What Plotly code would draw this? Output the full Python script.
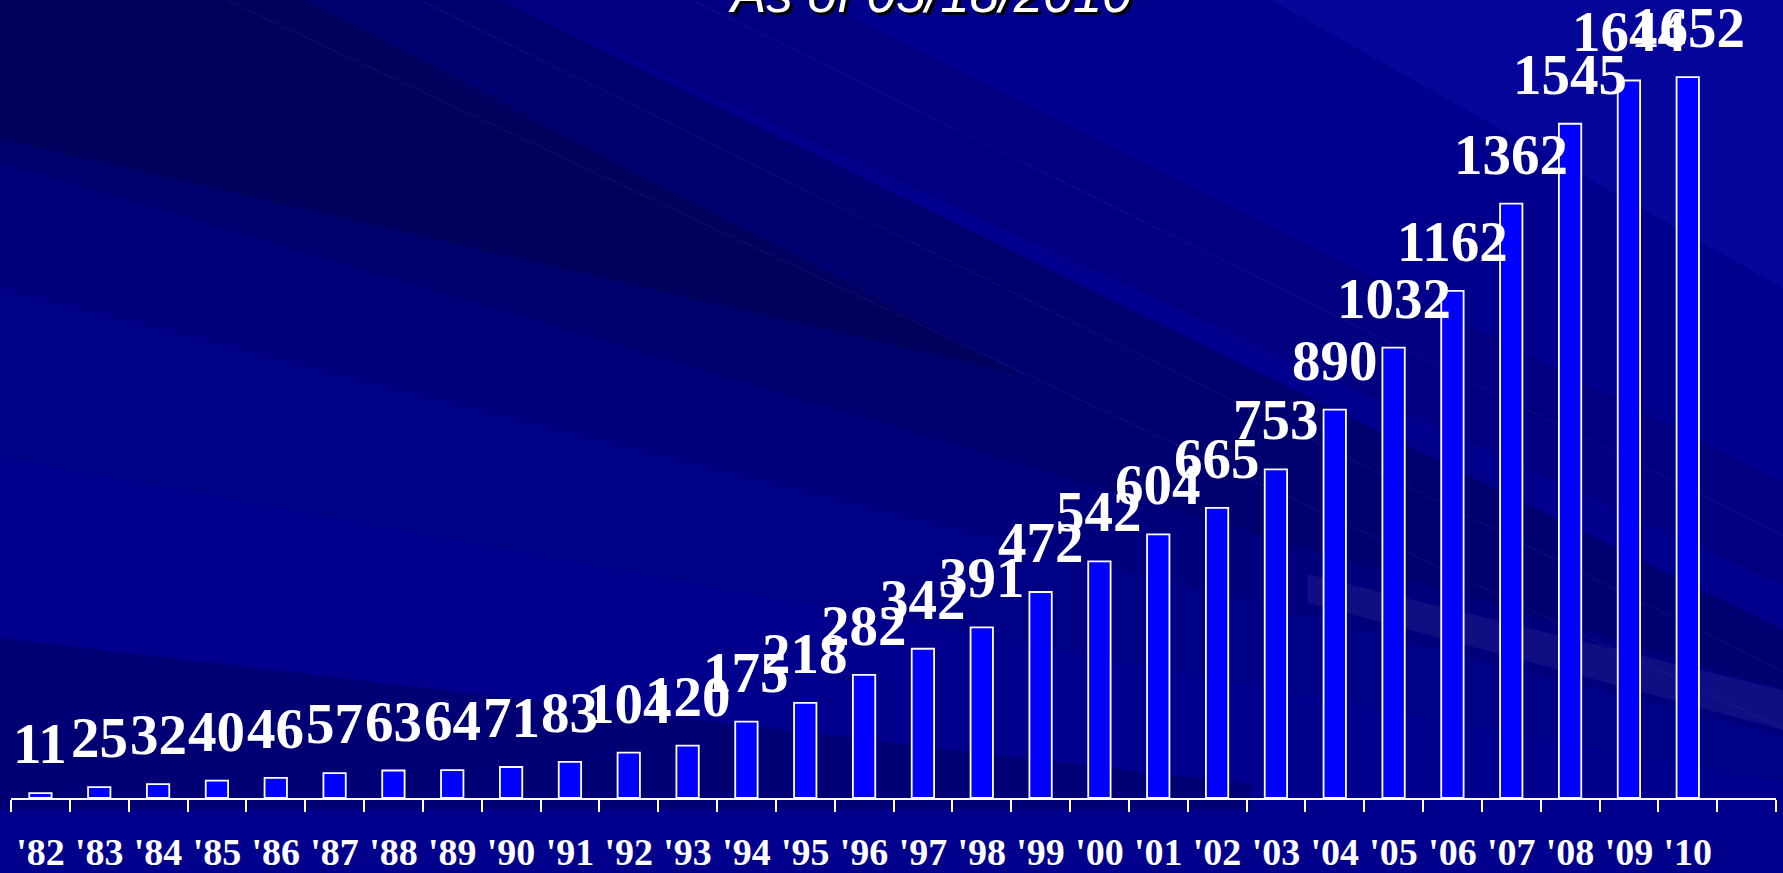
import plotly.graph_objects as go

years = ["'82", "'83", "'84", "'85", "'86", "'87", "'88", "'89", "'90", "'91",
         "'92", "'93", "'94", "'95", "'96", "'97", "'98", "'99", "'00", "'01",
         "'02", "'03", "'04", "'05", "'06", "'07", "'08", "'09", "'10"]
counts = [11, 25, 32, 40, 46, 57, 63, 64, 71, 83,
          104, 120, 175, 218, 282, 342, 391, 472, 542, 604,
          665, 753, 890, 1032, 1162, 1362, 1545, 1644, 1652]
title_text = "As of 05/18/2010"

W, H = 1783, 873
ML, MR, MT, MB = 11, 7, 0, 75
PW, PH = W - ML - MR, H - MT - MB


def px2paper(pts):
    """convert pixel polygon (figure coords) to a paper-coordinate svg path"""
    out = []
    for i, (px, py) in enumerate(pts):
        x = (px - ML) / PW
        y = 1 - (py - MT) / PH
        out.append(("M" if i == 0 else "L") + f"{x:.5f},{y:.5f}")
    return " ".join(out) + " Z"


s = 1.137  # decorative background bands (reference display px -> figure px)
bands = [
    ([(-10, -10), (420, -10), (1580, 560), (1580, 610), (-10, 140)], "rgba(0,0,30,0.26)"),
    ([(-10, -10), (250, -10), (900, 330), (-10, 120)], "rgba(0,0,30,0.22)"),
    ([(-10, 140), (1580, 610), (1580, 650), (-10, 250)], "rgba(0,0,30,0.14)"),
    ([(-10, 250), (1580, 650), (1580, 690), (-10, 400)], "rgba(0,0,30,0.06)"),
    ([(-10, 560), (1100, 690), (1100, 712), (-10, 712)], "rgba(0,0,30,0.22)"),
    ([(420, -10), (700, -10), (1580, 430), (1580, 520)], "rgba(0,0,30,0.10)"),
    ([(1150, 505), (1580, 610), (1580, 645), (1150, 530)], "rgba(255,255,255,0.06)"),
    ([(1100, -10), (1580, -10), (1580, 260)], "rgba(30,30,210,0.20)"),
]
shapes = []
for pts, col in bands:
    shapes.append(dict(type="path", xref="paper", yref="paper", layer="below",
                       path=px2paper([(x * s, y * s) for x, y in pts]),
                       fillcolor=col, line=dict(width=0)))
for (x0, y0, x1, y1) in [(370, 0, 1568, 590), (610, 0, 1568, 470), (200, 0, 1568, 640)]:
    shapes.append(dict(type="path", xref="paper", yref="paper", layer="below",
                       path=px2paper([(x0 * s, y0 * s), (x1 * s, y1 * s), (x1 * s, y1 * s + 1.2), (x0 * s, y0 * s + 1.2)]),
                       fillcolor="rgba(120,120,255,0.10)", line=dict(width=0)))

xs = list(range(len(years)))

fig = go.Figure()
fig.add_trace(go.Bar(
    x=xs, y=counts, width=0.38,
    marker=dict(color="#0000FF", line=dict(color="white", width=1.8)),
    hoverinfo="skip",
))

annotations = []
for x, v in zip(xs, counts):
    annotations.append(dict(
        x=x, y=v, xref="x", yref="y", text=str(v), showarrow=False,
        yanchor="bottom", xanchor="center", yshift=16,
        font=dict(family="Liberation Serif", size=57, color="white", weight="bold"),
    ))
annotations.append(dict(
    x=(930 - ML) / PW, y=1 - 25 / PH, xref="paper", yref="paper", text=title_text,
    showarrow=False, yanchor="bottom", xanchor="center",
    font=dict(family="Liberation Sans", size=53, color="white", style="italic",
              shadow="3px 3px 0px black"),
))

fig.update_layout(
    width=W, height=H,
    margin=dict(l=ML, r=MR, t=MT, b=MB, autoexpand=False),
    paper_bgcolor="#00008C", plot_bgcolor="rgba(0,0,0,0)",
    showlegend=False,
    shapes=shapes,
    annotations=annotations,
    xaxis=dict(
        range=[-0.5, len(years) + 0.5], tickmode="array", tickvals=xs, ticktext=years,
        ticks="outside", ticklen=19, tickcolor="rgba(0,0,0,0)", automargin=False,
        tickfont=dict(family="Liberation Serif", size=38, color="white", weight="bold"),
        showline=True, linecolor="white", linewidth=2, showgrid=False, zeroline=False,
        minor=dict(tickmode="array", tickvals=[i - 0.5 for i in range(len(years) + 2)],
                   ticks="outside", ticklen=12, tickcolor="white", tickwidth=1.6, showgrid=False),
        fixedrange=True,
    ),
    yaxis=dict(range=[0, 1828.5], visible=False, showgrid=False, zeroline=False,
               fixedrange=True, automargin=False),
)

fig.write_html("out.html", config={"displayModeBar": False},
               post_script="document.body.style.margin='0px';document.body.style.background='#00008C';")
